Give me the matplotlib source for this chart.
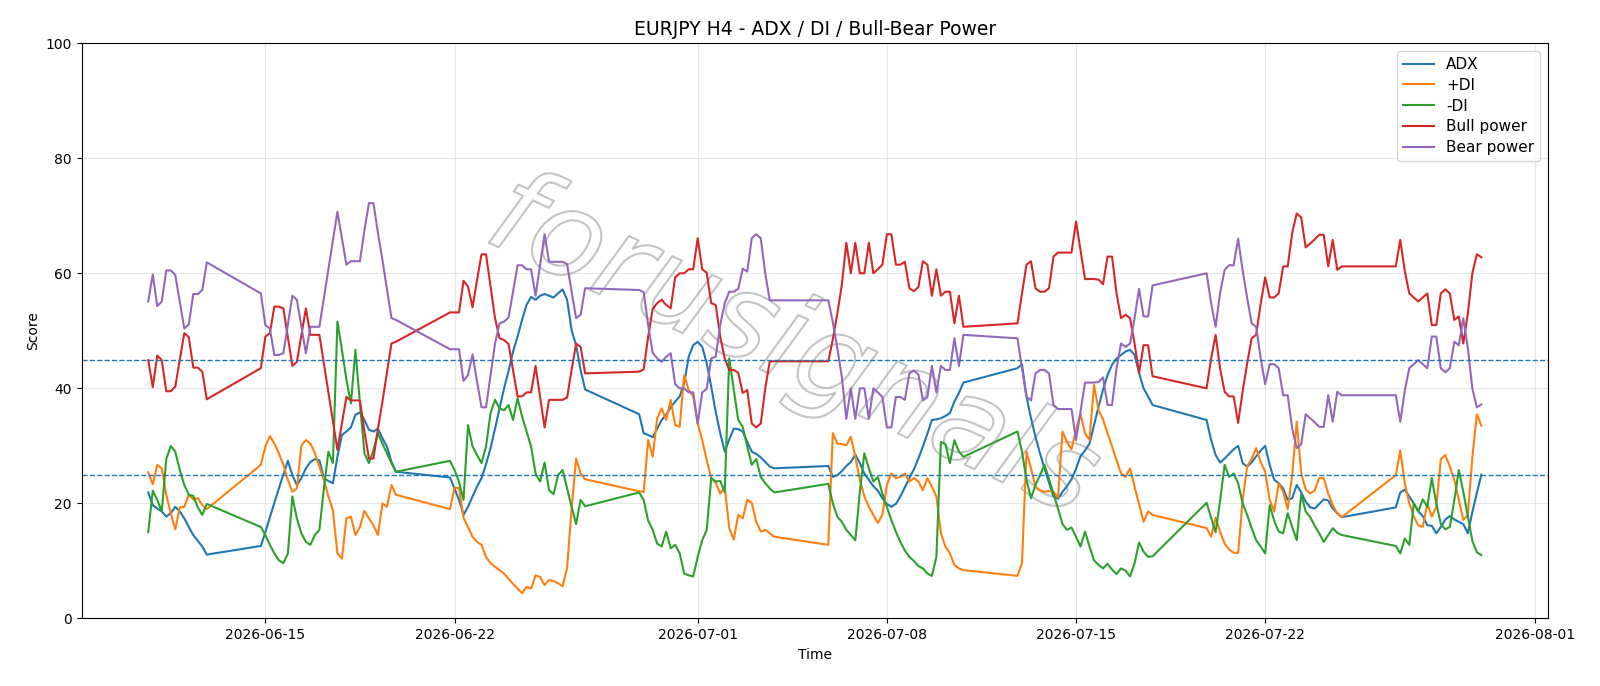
import numpy as np
import pandas as pd
import matplotlib
matplotlib.use("Agg")
from matplotlib import pyplot as plt
import matplotlib.patheffects as pe

# ==================================================
#   DATA (H4 bars, weekend gaps)

session_starts = ["2026-06-10 16:00", "2026-06-14 20:00", "2026-06-21 20:00", "2026-06-28 20:00",
                  "2026-07-05 20:00", "2026-07-12 20:00", "2026-07-19 20:00", "2026-07-26 20:00"]
session_bars = [14, 31, 31, 31, 31, 31, 31, 20]

adx = [21.9, 19.7, 19.1, 18.6, 17.7, 18.3, 19.4, 18.6, 17.4, 15.9, 14.5, 13.5, 12.5, 11.1,
       12.6, 15.0, 17.6, 20.1, 22.6, 25.0, 27.4, 24.9, 23.2, 24.4, 26.1, 27.2, 27.7, 27.5, 24.4, 23.9,
       23.5, 28.1, 31.9, 32.5, 33.2, 35.4, 35.8, 34.5, 32.8, 32.5, 33.0, 31.3, 29.9, 27.2, 25.5,
       24.5, 22.6, 20.6, 18.0, 19.4, 21.2, 22.9, 24.4, 26.8, 29.6, 33.0, 36.5, 40.0, 43.0, 46.4, 49.0,
       51.9, 54.5, 55.9, 55.4, 56.1, 56.4, 56.1, 55.8, 56.5, 57.2, 55.4, 50.1, 47.5, 43.2, 39.8,
       35.5, 32.2, 31.9, 31.5, 33.0, 34.5, 35.4, 36.7, 37.7, 38.6, 40.9, 45.5, 47.5, 48.1, 47.2, 44.4,
       40.3, 35.9, 32.2, 29.0, 31.1, 33.0, 32.9, 32.5, 30.7, 29.0, 28.6, 28.0, 27.2, 26.4, 26.1,
       26.5, 24.6, 24.9, 25.6, 26.5, 27.2, 28.5, 27.0, 25.2, 24.1, 23.0, 22.2, 20.9, 19.9, 19.4, 19.9,
       21.2, 22.8, 24.4, 25.9, 27.8, 29.9, 32.1, 34.5, 34.6, 34.8, 35.2, 35.7, 37.7, 39.2, 41.0,
       43.5, 44.2, 38.6, 34.8, 31.6, 28.7, 26.1, 23.6, 21.2, 20.8, 22.0, 23.0, 24.2, 26.0, 28.2, 29.2,
       30.4, 33.6, 36.8, 39.8, 42.3, 44.1, 45.2, 45.8, 46.4, 46.7, 45.8, 42.7, 40.0, 38.6, 37.1,
       34.5, 31.0, 28.4, 27.1, 27.8, 28.6, 29.4, 30.0, 27.0, 26.4, 27.1, 28.2, 29.2, 30.0, 26.7, 24.1,
       23.5, 22.6, 20.6, 20.9, 23.2, 21.9, 20.3, 19.3, 19.1, 19.9, 20.7, 20.5, 19.1, 18.3, 17.6,
       19.3, 21.9, 22.4, 21.2, 20.0, 18.6, 17.8, 16.2, 16.1, 14.8, 15.9, 17.2, 17.8, 17.2, 16.8, 16.4,
       14.8, 18.5, 21.8, 25.0]

plus_di = [25.4, 23.3, 26.7, 26.1, 21.5, 18.3, 15.5, 19.3, 19.4, 21.5, 20.7, 20.9, 19.7, 19.0,
           26.7, 29.9, 31.7, 30.4, 28.7, 26.7, 24.1, 22.0, 22.6, 30.1, 31.0, 30.4, 28.7, 26.4, 24.1, 21.2,
           18.8, 11.3, 10.4, 17.4, 17.7, 14.5, 15.9, 18.7, 17.4, 16.2, 14.5, 20.0, 19.4, 23.2, 21.5,
           19.0, 22.7, 22.7, 17.5, 15.9, 14.2, 13.3, 12.8, 10.7, 9.6, 9.0, 8.4, 7.8, 6.9, 6.0, 5.2,
           4.4, 5.5, 5.2, 7.5, 7.2, 5.8, 6.7, 6.5, 6.1, 5.6, 8.8, 19.1, 27.8, 25.2, 24.2,
           22.1, 22.0, 31.0, 28.1, 34.8, 36.5, 34.5, 38.0, 33.6, 33.3, 42.3, 39.7, 38.6, 33.9, 31.0, 27.5,
           24.4, 23.6, 21.7, 22.9, 15.7, 13.7, 18.0, 17.4, 20.6, 20.1, 16.8, 15.1, 15.4, 14.8, 14.2,
           12.8, 32.2, 30.4, 30.3, 30.1, 31.6, 28.1, 24.1, 21.2, 19.4, 18.0, 16.6, 18.0, 23.2, 25.2, 24.4,
           24.6, 25.2, 23.8, 24.4, 23.8, 22.3, 24.4, 22.9, 21.2, 14.8, 12.5, 11.3, 9.3, 8.7, 8.4,
           7.4, 9.6, 29.0, 26.1, 22.9, 22.3, 22.0, 22.2, 22.0, 21.0, 32.5, 30.7, 29.4, 32.8, 35.5, 32.2,
           31.0, 40.6, 36.2, 34.6, 32.2, 29.9, 27.5, 25.2, 24.6, 26.1, 22.9, 19.9, 16.8, 18.6, 18.0,
           15.7, 14.2, 17.5, 15.0, 13.0, 12.0, 11.4, 11.4, 20.6, 26.4, 27.8, 29.6, 27.2, 25.5, 20.6, 18.6,
           23.5, 22.0, 19.0, 24.9, 34.2, 25.3, 22.4, 21.7, 22.3, 24.4, 24.4, 21.7, 19.7, 18.3, 17.6,
           24.9, 29.2, 23.5, 20.0, 17.7, 16.2, 15.9, 20.0, 17.7, 19.4, 27.7, 28.4, 26.4, 24.1, 20.6, 17.1,
           18.0, 28.0, 35.5, 33.5]

minus_di = [15.0, 22.2, 20.6, 18.6, 27.7, 30.0, 29.0, 25.8, 23.2, 21.5, 21.3, 19.3, 18.0, 19.9,
            15.9, 14.5, 12.8, 11.3, 10.1, 9.6, 11.3, 21.2, 17.4, 14.8, 13.3, 12.8, 14.5, 15.4, 22.6, 29.0,
            27.0, 51.6, 46.7, 41.5, 37.4, 46.7, 37.4, 28.7, 27.0, 29.3, 32.2, 30.4, 28.7, 27.0, 25.5,
            27.4, 25.8, 23.8, 20.6, 33.6, 29.9, 28.4, 27.0, 29.9, 35.7, 38.0, 36.5, 36.2, 37.1, 34.5, 38.3,
            35.1, 32.5, 29.9, 25.2, 23.8, 27.1, 22.3, 21.6, 24.9, 25.8, 22.6, 19.4, 16.4, 20.6, 19.5,
            21.9, 20.6, 17.0, 15.4, 13.0, 12.5, 15.1, 12.2, 12.8, 11.3, 7.8, 7.5, 7.3, 10.7, 13.6, 15.4,
            24.4, 23.8, 23.9, 22.0, 45.2, 39.8, 34.5, 33.3, 29.9, 26.7, 27.7, 24.6, 23.5, 22.6, 21.9,
            23.4, 20.0, 17.7, 16.8, 15.4, 14.5, 13.6, 22.0, 28.7, 26.1, 23.8, 24.6, 21.7, 19.4, 17.1, 15.1,
            13.3, 11.8, 10.7, 10.0, 9.1, 8.7, 7.8, 7.4, 10.7, 30.7, 30.3, 27.0, 31.0, 29.0, 28.1,
            32.5, 29.0, 24.1, 20.9, 23.2, 24.9, 26.7, 24.2, 21.7, 19.1, 16.4, 15.4, 15.8, 14.2, 12.5, 15.1,
            12.5, 10.1, 9.3, 8.7, 9.5, 8.5, 7.7, 8.7, 8.3, 7.3, 9.6, 13.2, 11.6, 10.7, 10.8,
            20.1, 17.5, 15.0, 20.5, 26.7, 24.6, 25.2, 23.5, 20.0, 18.0, 15.7, 13.6, 12.5, 11.3, 19.7, 17.0,
            15.1, 14.8, 18.3, 15.9, 13.6, 21.6, 18.6, 17.6, 16.1, 14.8, 13.3, 14.5, 15.7, 14.9, 14.5,
            12.6, 11.3, 13.9, 12.8, 20.0, 18.6, 20.7, 19.4, 24.4, 20.0, 16.4, 15.5, 15.9, 20.6, 25.8, 22.0,
            17.7, 13.5, 11.5, 11.0]

bull_power = [44.9, 40.2, 45.7, 44.9, 39.5, 39.5, 40.3, 44.9, 49.6, 48.9, 43.6, 43.6, 42.9, 38.1,
              43.5, 49.0, 49.6, 54.2, 54.2, 53.9, 48.9, 43.9, 44.6, 49.3, 53.9, 49.3, 49.3, 49.3, 44.3, 39.4,
              34.2, 29.3, 33.9, 38.5, 37.9, 37.9, 37.9, 32.5, 27.8, 27.8, 33.0, 37.7, 42.7, 47.8, 48.1,
              53.2, 53.2, 53.2, 58.7, 57.7, 54.1, 58.8, 63.3, 63.3, 57.8, 52.2, 48.7, 48.4, 47.7, 43.2, 38.6,
              38.6, 39.3, 39.3, 43.9, 38.6, 33.2, 38.0, 38.0, 38.0, 38.0, 38.4, 43.2, 47.8, 47.2, 42.6,
              42.9, 43.3, 49.0, 53.8, 54.8, 55.4, 54.5, 53.9, 59.3, 60.0, 60.0, 60.7, 60.7, 66.1, 60.7, 60.1,
              54.8, 54.5, 49.0, 45.2, 43.2, 43.2, 42.7, 39.2, 39.7, 33.9, 33.2, 33.9, 40.0, 44.7, 44.7,
              44.7, 48.5, 53.0, 58.0, 65.3, 60.0, 65.3, 60.0, 60.0, 65.3, 60.0, 60.7, 61.5, 66.8, 66.8, 61.5,
              61.5, 62.0, 57.4, 56.9, 57.6, 62.1, 61.5, 56.1, 60.7, 56.1, 56.8, 56.8, 51.3, 56.1, 50.7,
              51.3, 56.5, 61.5, 62.1, 57.4, 56.8, 56.8, 57.4, 62.9, 63.6, 63.6, 63.6, 63.6, 69.0, 64.0, 59.0,
              59.0, 59.0, 58.9, 58.1, 62.9, 62.9, 56.5, 52.2, 52.8, 52.2, 47.8, 42.7, 47.5, 47.5, 42.1,
              40.0, 45.2, 49.3, 43.4, 39.4, 38.6, 38.6, 34.0, 39.5, 44.3, 48.7, 49.3, 54.7, 59.3, 55.8, 55.8,
              56.5, 61.2, 61.2, 67.0, 70.4, 69.7, 64.5, 65.2, 65.9, 66.7, 66.7, 61.2, 65.8, 60.6, 61.2,
              61.2, 65.8, 60.4, 56.5, 55.8, 55.1, 55.8, 56.5, 51.0, 51.0, 56.5, 57.2, 56.5, 51.9, 52.5, 47.8,
              53.0, 60.0, 63.3, 62.8]

bear_power = [55.1, 59.8, 54.3, 55.1, 60.5, 60.5, 59.7, 55.1, 50.4, 51.1, 56.4, 56.4, 57.1, 61.9,
              56.5, 51.0, 50.4, 45.8, 45.8, 46.1, 51.1, 56.1, 55.4, 50.7, 46.1, 50.7, 50.7, 50.7, 55.7, 60.6,
              65.8, 70.7, 66.1, 61.5, 62.1, 62.1, 62.1, 67.5, 72.2, 72.2, 67.0, 62.3, 57.3, 52.2, 51.9,
              46.8, 46.8, 46.8, 41.3, 42.3, 45.9, 41.2, 36.7, 36.7, 42.2, 47.8, 51.3, 51.6, 52.3, 56.8, 61.4,
              61.4, 60.7, 60.7, 56.1, 61.4, 66.8, 62.0, 62.0, 62.0, 62.0, 61.6, 56.8, 52.2, 52.8, 57.4,
              57.1, 56.7, 51.0, 46.2, 45.2, 44.6, 45.5, 46.1, 40.7, 40.0, 40.0, 39.3, 39.3, 33.9, 39.3, 39.9,
              45.2, 45.5, 51.0, 54.8, 56.8, 56.8, 57.3, 60.8, 60.3, 66.1, 66.8, 66.1, 60.0, 55.3, 55.3,
              55.3, 51.5, 47.0, 42.0, 34.7, 40.0, 34.7, 40.0, 40.0, 34.7, 40.0, 39.3, 38.5, 33.2, 33.2, 38.5,
              38.5, 38.0, 42.6, 43.1, 42.4, 37.9, 38.5, 43.9, 39.3, 43.9, 43.2, 43.2, 48.7, 43.9, 49.3,
              48.7, 43.5, 38.5, 37.9, 42.6, 43.2, 43.2, 42.6, 37.1, 36.4, 36.4, 36.4, 36.4, 31.0, 36.0, 41.0,
              41.0, 41.0, 41.1, 41.9, 37.1, 37.1, 43.5, 47.8, 47.2, 47.8, 52.2, 57.3, 52.5, 52.5, 57.9,
              60.0, 54.8, 50.7, 56.6, 60.6, 61.4, 61.4, 66.0, 60.5, 55.7, 51.3, 50.7, 45.3, 40.7, 44.2, 44.2,
              43.5, 38.8, 38.8, 33.0, 29.6, 30.3, 35.5, 34.8, 34.1, 33.3, 33.3, 38.8, 34.2, 39.4, 38.8,
              38.8, 34.2, 39.6, 43.5, 44.2, 44.9, 44.2, 43.5, 49.0, 49.0, 43.5, 42.8, 43.5, 48.1, 47.5, 52.2,
              47.0, 40.0, 36.7, 37.2]

watermark = "forusignals"

# ==================================================
#   TIME INDEX

times = []
for start, n in zip(session_starts, session_bars):
    times.extend(pd.date_range(start, periods=n, freq="4h"))
times = pd.DatetimeIndex(times)

# ==================================================
#      PLOT

fig = plt.figure(figsize=(16, 6.86), dpi=100)
ax = fig.add_axes([0.051, 0.0985, 0.9165, 0.8385])

ax.text(0.485, 0.47, watermark, transform=ax.transAxes, fontsize=86, rotation=-25,
        ha="center", va="center", color="none", style="italic", zorder=0,
        path_effects=[pe.withStroke(linewidth=1.5, foreground="#c4c4c4")])

ax.plot(times, adx, label="ADX")
ax.plot(times, plus_di, label="+DI")
ax.plot(times, minus_di, label="-DI")
ax.plot(times, bull_power, label="Bull power")
ax.plot(times, bear_power, label="Bear power")
ax.axhline(45, ls="--", lw=1, c="C0")
ax.axhline(25, ls="--", lw=1, c="C0")

ax.set_ylim(0, 100)
ax.grid(alpha=0.3)
ax.legend(loc="upper right", fontsize=11, labelspacing=0.38)
ax.set_title("EURJPY H4 - ADX / DI / Bull-Bear Power", fontsize=13.5)
ax.set_xlabel("Time")
ax.set_ylabel("Score")

fig.savefig("out.png", dpi=100)
